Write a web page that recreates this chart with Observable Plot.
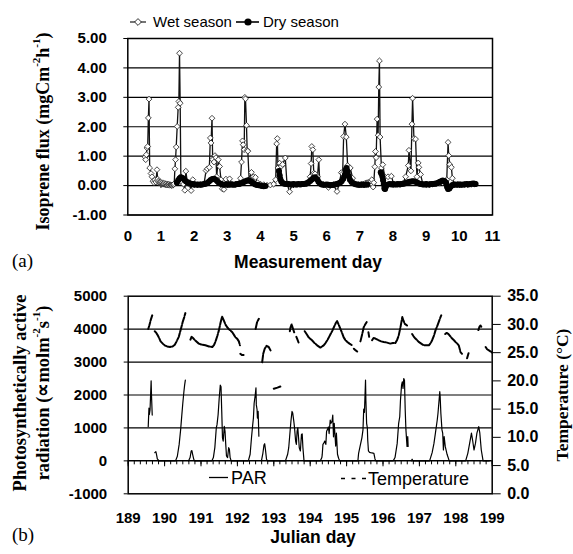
<!DOCTYPE html>
<html>
<head>
<meta charset="utf-8">
<script src="https://cdn.jsdelivr.net/npm/d3@7"></script>
<script src="https://cdn.jsdelivr.net/npm/@observablehq/plot@0.6"></script>
<style>
  body { margin: 0; background: white; }
  #root { position: relative; width: 573px; height: 554px; overflow: hidden; }
  .layer { position: absolute; left: 0; }
  svg text { white-space: pre; }
</style>
</head>
<body>
<div id="root">
  <div id="chartA" class="layer" style="top:0px"></div>
  <div id="chartB" class="layer" style="top:277px"></div>
  <div id="chartB2" class="layer" style="top:277px"></div>
  <svg id="notes" class="layer" style="top:0px;pointer-events:none" width="573" height="554">
    <!-- legend (a) -->
    <line x1="130" x2="146" y1="22" y2="22" stroke="#1a1a1a" stroke-width="1.2"/>
    <path d="M138,18.6L141.4,22L138,25.4L134.6,22Z" fill="white" stroke="#1a1a1a" stroke-width="0.9"/>
    <text x="153" y="27.3" font-family="'Liberation Sans', Arial, sans-serif" font-size="15">Wet season</text>
    <line x1="236" x2="259" y1="22" y2="22" stroke="black" stroke-width="1.6"/>
    <circle cx="248" cy="22" r="3.6" fill="black"/>
    <text x="263" y="27.3" font-family="'Liberation Sans', Arial, sans-serif" font-size="15">Dry season</text>
    <!-- axis titles (a) -->
    <text transform="translate(43,131.5) rotate(-90)" text-anchor="middle" dominant-baseline="central" font-family="'Liberation Serif', 'Times New Roman', serif" font-weight="bold" font-size="18">Isoprene flux (mgCm<tspan dy="-7" font-size="11">-2</tspan><tspan dy="7">h</tspan><tspan dy="-7" font-size="11">-1</tspan><tspan dy="7">)</tspan></text>
    <text x="12" y="267" font-family="'Liberation Serif', 'Times New Roman', serif" font-size="19">(a)</text>
    <text x="308" y="268" text-anchor="middle" font-family="'Liberation Sans', Arial, sans-serif" font-weight="bold" font-size="17.5">Measurement day</text>
    <!-- axis titles (b) -->
    <text transform="translate(20,393) rotate(-90)" text-anchor="middle" dominant-baseline="central" font-family="'Liberation Serif', 'Times New Roman', serif" font-weight="bold" font-size="18.5">Photosynthetically active</text>
    <text transform="translate(43,393) rotate(-90)" text-anchor="middle" dominant-baseline="central" font-family="'Liberation Serif', 'Times New Roman', serif" font-weight="bold" font-size="18.5">radiation (∝molm<tspan dy="-7" font-size="11">-2</tspan><tspan dy="7">s</tspan><tspan dy="-7" font-size="11">-1</tspan><tspan dy="7">)</tspan></text>
    <text transform="translate(562,395) rotate(-90)" text-anchor="middle" dominant-baseline="central" font-family="'Liberation Serif', 'Times New Roman', serif" font-weight="bold" font-size="17.5">Temperature (°C)</text>
    <text x="12" y="541" font-family="'Liberation Serif', 'Times New Roman', serif" font-size="19">(b)</text>
    <text x="313" y="543" text-anchor="middle" font-family="'Liberation Sans', Arial, sans-serif" font-weight="bold" font-size="17.5">Julian day</text>
    <!-- legend (b) -->
    <line x1="209" x2="228" y1="477.5" y2="477.5" stroke="black" stroke-width="1.3"/>
    <text x="231" y="484" font-family="'Liberation Sans', Arial, sans-serif" font-size="18">PAR</text>
    <line x1="341" x2="366" y1="478.5" y2="478.5" stroke="black" stroke-width="1.3" stroke-dasharray="4,6.5"/>
    <text x="368" y="484.5" font-family="'Liberation Sans', Arial, sans-serif" font-size="18">Temperature</text>
  </svg>
</div>
<script>
// ---------- DATA ----------
// (a) Isoprene flux, measurement day vs mgC m-2 h-1
const measurementDayTicks = [0,1,2,3,4,5,6,7,8,9,10,11];
const fluxTicks = [-1,0,1,2,3,4,5];

const wetSeason = [
[0.52,0.97],[0.54,0.88],[0.56,1.05],[0.58,1.28],[0.60,1.33],[0.62,2.30],[0.64,2.94],[0.66,0.60],[0.70,0.41],[0.73,0.30],[0.76,0.15],[0.79,0.10],[0.82,0.20],[0.85,0.12],[0.88,0.54],[0.90,0.22],[0.92,0.15],
[0.94,0.10],[0.96,0.12],[0.98,0.08],[1.00,0.11],[1.02,0.06],[1.04,0.09],[1.06,0.05],[1.08,0.08],[1.10,0.04],[1.12,0.07],[1.14,0.03],[1.16,0.06],[1.18,0.02],[1.20,0.05],[1.22,0.03],[1.24,0.04],[1.26,0.01],[1.28,0.03],[1.30,0.02],[1.32,0.00],[1.34,0.02],[1.36,0.01],[1.38,0.03],[1.40,0.06],
[1.42,0.57],[1.44,0.88],[1.46,1.31],[1.49,2.01],[1.52,2.66],[1.54,2.86],[1.56,4.50],[1.58,2.80],[1.60,0.30],[1.64,0.10],[1.68,0.05],[1.72,-0.16],[1.75,0.49],[1.80,0.08],[1.86,0.05],[1.91,-0.17],[1.96,0.20],[2.02,0.05],[2.10,0.03],[2.20,0.04],[2.30,0.06],
[2.36,0.51],[2.40,0.57],[2.46,0.62],[2.49,1.62],[2.51,1.45],[2.54,2.29],[2.56,0.88],[2.60,0.80],[2.63,1.02],[2.66,0.95],[2.68,0.30],[2.73,0.88],[2.77,0.65],[2.81,0.20],[2.85,-0.11],[2.90,-0.13],[2.96,0.22],[3.01,0.05],[3.07,0.23],[3.15,0.04],[3.25,0.05],[3.35,0.08],
[3.40,0.25],[3.43,0.80],[3.46,1.52],[3.48,1.39],[3.51,1.22],[3.53,3.00],[3.55,2.95],[3.58,2.05],[3.60,1.20],[3.62,1.17],[3.66,0.20],[3.73,0.45],[3.79,0.30],[3.85,0.28],[3.91,0.10],[4.00,0.05],[4.10,0.03],[4.20,0.01],[4.30,0.02],[4.40,0.05],
[4.46,0.20],[4.49,1.42],[4.51,1.60],[4.53,0.60],[4.58,0.76],[4.63,0.66],[4.67,0.72],[4.75,0.94],[4.80,0.08],[4.88,-0.21],[4.95,0.03],[5.10,0.04],[5.25,0.05],[5.40,0.06],
[5.50,0.30],[5.53,0.75],[5.55,1.33],[5.58,1.22],[5.61,0.42],[5.65,0.40],[5.72,0.30],[5.76,0.88],[5.79,0.10],[5.90,0.04],[6.05,-0.06],[6.20,0.03],[6.31,-0.20],[6.38,0.08],
[6.44,0.44],[6.48,0.40],[6.51,1.67],[6.55,2.09],[6.59,1.65],[6.63,0.68],[6.71,0.60],[6.78,0.25],[6.85,0.05],[6.95,0.04],[7.05,0.03],
[7.10,0.05],[7.13,0.02],[7.16,0.08],[7.19,0.04],[7.22,0.10],[7.25,0.03],[7.28,0.12],[7.31,0.06],[7.34,0.15],[7.36,0.20],[7.38,0.03],[7.40,-0.05],[7.42,0.10],
[7.45,0.64],[7.47,1.16],[7.49,0.95],[7.52,2.26],[7.55,1.71],[7.57,3.35],[7.59,4.24],[7.61,1.65],[7.65,0.60],[7.69,0.71],[7.75,0.30],[7.85,0.30],[7.95,0.32],[8.02,0.05],[8.12,0.04],[8.22,0.05],[8.30,0.07],
[8.38,0.30],[8.46,0.68],[8.48,1.20],[8.54,0.50],[8.57,2.09],[8.59,2.97],[8.63,1.60],[8.68,1.58],[8.72,0.30],[8.76,0.77],[8.78,0.62],[8.83,0.38],[8.90,0.05],[9.00,0.04],[9.10,0.03],[9.20,0.05],[9.30,0.06],[9.40,0.08],[9.50,0.10],
[9.62,0.20],[9.66,1.47],[9.68,1.02],[9.71,0.72],[9.76,0.62],[9.79,0.25],[9.85,0.03],[9.95,0.04],[10.05,0.03],[10.15,0.04],[10.25,0.03],[10.35,0.04],[10.45,0.05]
];

const drySeason = [
[1.48,0.10],[1.52,0.18],[1.56,0.24],[1.60,0.28],[1.65,0.26],[1.70,0.21],[1.75,0.15],[1.80,0.11],[1.85,0.08],[1.90,0.06],[1.95,0.05],[2.00,0.04],[2.05,0.04],[2.10,0.03],[2.15,0.04],[2.20,0.03],[2.25,0.04],[2.30,0.05],[2.35,0.06],[2.40,0.09],[2.45,0.14],[2.50,0.19],[2.55,0.22],[2.60,0.23],[2.65,0.20],[2.70,0.15],[2.75,0.09],[2.80,0.06],[2.85,0.04],[2.90,0.03],[2.95,0.04],[3.00,0.04],[3.05,0.03],[3.10,0.04],[3.15,0.04],[3.20,0.03],[3.25,0.04],[3.30,0.05],[3.35,0.05],[3.40,0.07],[3.45,0.09],[3.50,0.12],[3.55,0.15],[3.60,0.17],[3.65,0.18],[3.70,0.15],[3.75,0.11],[3.80,0.07],[3.85,0.04],[3.90,0.02],[3.95,0.01],[4.00,0.00],[4.05,-0.01],[4.10,-0.02],[4.15,-0.01],
null,
[4.56,0.50],[4.58,0.35],[4.60,0.22],[4.63,0.14],[4.67,0.09],[4.72,0.06],[4.78,0.05],[4.85,0.05],[4.90,0.04],[4.95,0.04],[5.00,0.05],[5.05,0.04],[5.10,0.04],[5.15,0.05],[5.20,0.04],[5.25,0.05],[5.30,0.05],[5.35,0.06],[5.40,0.08],[5.45,0.11],[5.50,0.16],[5.55,0.21],[5.60,0.26],[5.65,0.28],[5.70,0.22],[5.75,0.13],[5.80,0.07],[5.85,0.04],[5.90,0.03],[5.95,0.03],[6.00,0.04],[6.05,0.03],[6.10,0.01],[6.15,0.02],[6.20,0.03],[6.25,0.04],[6.30,0.05],[6.35,0.07],[6.40,0.10],[6.45,0.15],[6.50,0.23],[6.55,0.38],[6.58,0.55],[6.60,0.60],[6.63,0.48],[6.66,0.32],[6.70,0.20],[6.75,0.12],[6.80,0.08],[6.85,0.05],[6.90,0.04],[6.95,0.03],[7.00,0.03],[7.05,0.04],[7.10,0.03],[7.15,0.03],[7.22,0.04],
null,
[7.63,0.45],[7.65,0.40],[7.68,0.30],[7.70,0.18],[7.72,0.05],[7.74,-0.10],[7.76,-0.12],[7.78,-0.05],[7.80,0.02],[7.85,0.04],[7.90,0.05],[7.95,0.04],[8.00,0.05],[8.05,0.04],[8.10,0.04],[8.15,0.05],[8.20,0.04],[8.25,0.05],[8.30,0.06],[8.35,0.07],[8.40,0.09],[8.45,0.11],[8.50,0.13],[8.55,0.14],[8.60,0.15],[8.65,0.14],[8.70,0.12],[8.75,0.09],[8.80,0.06],[8.85,0.05],[8.90,0.04],[8.95,0.04],[9.00,0.05],[9.05,0.04],[9.10,0.04],[9.15,0.05],[9.20,0.05],[9.25,0.06],[9.30,0.07],[9.35,0.09],[9.40,0.12],[9.45,0.15],[9.50,0.17],[9.55,0.16],[9.60,0.10],[9.63,-0.05],[9.66,-0.12],[9.70,-0.10],[9.74,-0.03],[9.78,0.01],[9.82,0.03],[9.87,0.04],[9.92,0.03],[9.97,0.04],[10.02,0.04],[10.07,0.03],[10.12,0.04],[10.17,0.04],[10.22,0.05],[10.27,0.04],[10.32,0.05],[10.37,0.06],[10.42,0.07],[10.46,0.06],[10.49,0.05]
];

// (b) Julian day vs PAR (µmol m-2 s-1) and temperature (°C)
const julianDayTicks = [189,190,191,192,193,194,195,196,197,198,199];
const parTicks = [-1000,0,1000,2000,3000,4000,5000];
const temperatureTicks = [0,5,10,15,20,25,30,35];

const parRadiation = [
[189.55,1040],[189.57,1600],[189.58,1400],[189.60,1550],[189.63,2430],[189.64,2000],[189.66,1390], null,
[189.73,250],[189.76,280],[189.78,180],[189.80,60],[189.85,0],[190.30,0],[190.35,140],[190.40,500],[190.44,940],[190.47,1350],[190.50,1750],[190.53,2100],[190.55,2300],[190.57,2450], null,
[190.66,0],[190.70,100],[190.73,300],[190.75,310],[190.77,200],[190.80,50],[190.83,0],[191.30,0],[191.34,100],[191.38,400],[191.42,1000],[191.44,1100],[191.47,1400],[191.50,1900],[191.53,2300],[191.55,2250],[191.57,1500],[191.59,700],[191.61,600],[191.64,1050],[191.66,900],[191.68,500],[191.70,150],[191.73,100],[191.76,400],[191.78,350],[191.80,100],[191.83,0],[192.30,0],
[192.35,200],[192.39,740],[192.42,1090],[192.44,1300],[192.46,1750],[192.49,2000],[192.51,2220],[192.52,1700],[192.54,1560],[192.55,1300],[192.57,1500],[192.59,750], null,
[192.66,0],[192.70,230],[192.73,480],[192.75,520],[192.77,350],[192.80,50],[192.83,0],[193.32,0],[193.38,200],[193.41,400],[193.44,800],[193.47,1200],[193.50,1500],[193.52,1450],[193.55,1200],[193.57,1000],[193.60,600],[193.62,500],[193.64,900],[193.66,1000],[193.68,700],[193.70,400],[193.73,300],[193.76,800],[193.78,820],[193.80,400],[193.83,0],[194.28,0],
[194.32,100],[194.33,180],[194.35,500],[194.37,530],[194.40,600],[194.43,500],[194.45,900],[194.47,940],[194.50,1030],[194.52,830],[194.55,1240],[194.57,1140],[194.60,1200],[194.62,1390],[194.64,730],[194.66,1140],[194.68,800],[194.70,450],[194.72,840],[194.75,200],[194.78,80],[194.81,0],[195.31,0],
[195.33,230],[195.37,440],[195.42,700],[195.45,940],[195.47,1570],[195.49,1470],[195.52,2450],[195.53,1830],[195.55,1140],[195.57,1000],[195.58,640],[195.60,300],[195.63,260],[195.66,250],[195.70,240],[195.75,230],[195.78,60],[195.80,0],[196.28,0],
[196.33,100],[196.39,530],[196.43,1140],[196.46,1340],[196.48,1840],[196.51,2300],[196.53,2400],[196.55,2200],[196.57,2500],[196.59,2450],[196.61,1550],[196.63,940],[196.66,440],[196.68,740],[196.69,440], null,
[196.78,0],[196.80,50],[196.82,0],[197.28,0],[197.35,250],[197.40,530],[197.44,840],[197.49,1240],[197.51,1440],[197.53,1700],[197.56,2100],[197.57,1950],[197.59,1440],[197.62,940],[197.64,840],[197.66,330],[197.68,740],[197.71,440],[197.76,200],[197.82,0],[198.27,0],
[198.33,230],[198.38,530],[198.43,840],[198.46,640],[198.50,330],[198.54,530],[198.58,840],[198.63,1040],[198.66,840],[198.70,330],[198.75,0],[198.92,0]
];

const airTemperature = [
[189.55,29.2],[189.58,29.8],[189.62,30.8],[189.66,31.6], null,
[189.73,28.8],[189.76,28.6],[189.80,28.2],[189.85,27.6],[189.89,27.0],[189.95,26.6],[190.00,26.3],[190.07,26.1],[190.15,26.0],[190.22,26.1],[190.28,26.4],[190.33,27.0],[190.39,27.8],[190.46,29.5],[190.50,30.5],[190.54,31.3],[190.57,32.0], null,
[190.71,27.3],[190.74,27.8],[190.78,27.6],[190.85,27.1],[190.94,26.6],[191.03,26.4],[191.12,26.3],[191.22,26.1],[191.31,26.0],[191.36,26.4],[191.40,27.0],[191.45,28.0],[191.49,28.9],[191.54,30.4],[191.58,31.4],[191.62,30.8],[191.67,30.0],[191.72,29.5],[191.76,29.2],[191.81,28.9],[191.86,28.6],[191.91,28.1],[191.95,27.7],[192.00,27.4],[192.04,27.0],[192.07,26.3], null,
[192.08,24.8],[192.12,24.6],[192.17,24.6], null,
[192.50,29.2],[192.54,30.4],[192.59,31.0], null,
[192.68,23.3],[192.71,24.8],[192.75,25.7],[192.80,26.2],[192.86,26.0],[192.91,25.4], null,
[193.00,18.6],[193.10,18.8],[193.18,19.0], null,
[193.44,28.8],[193.46,29.5],[193.49,30.0],[193.51,29.6],[193.53,29.2],[193.56,28.6], null,
[193.62,27.8],[193.64,27.5],[193.68,26.8], null,
[193.85,28.8],[193.90,28.3],[193.96,27.7],[194.05,27.2],[194.12,26.7],[194.19,26.3],[194.28,25.9],[194.37,26.3],[194.42,26.7],[194.47,27.2],[194.52,27.8],[194.56,28.3],[194.61,28.9],[194.65,29.5],[194.70,30.2],[194.74,30.6],[194.78,30.0],[194.83,29.2],[194.88,28.4],[194.92,27.7],[194.97,27.2],[195.02,26.9],[195.08,26.6],[195.15,26.3], null,
[195.20,25.7],[195.25,25.4],[195.29,25.2], null,
[195.38,27.0],[195.43,28.3],[195.47,29.5],[195.52,30.1],[195.55,30.4], null,
[195.60,28.6],[195.62,27.8], null,
[195.70,27.2],[195.74,27.6],[195.79,27.5],[195.88,27.2],[195.95,27.0],[196.02,26.9],[196.10,26.8],[196.20,26.6],[196.27,26.7],[196.34,26.7],[196.39,27.3],[196.43,28.0],[196.48,29.5],[196.53,31.3],[196.56,30.7],[196.60,30.1],[196.66,29.8], null,
[196.80,28.3],[196.84,27.9],[196.89,27.5],[196.94,27.2],[196.98,26.9],[197.05,26.6],[197.12,26.3],[197.20,26.3],[197.26,26.3],[197.31,26.7],[197.35,27.2],[197.40,28.0],[197.44,28.9],[197.49,29.7],[197.53,30.4],[197.58,31.3],[197.60,31.6], null,
[197.71,28.3],[197.75,28.5],[197.80,28.3],[197.85,27.9],[197.90,27.5],[197.95,27.2],[197.99,26.9],[198.04,26.6],[198.08,26.3],[198.11,25.6],[198.13,25.1],[198.17,24.8], null,
[198.31,24.0],[198.35,24.9], null,
[198.62,29.0],[198.65,29.6],[198.68,29.8],[198.70,29.6], null,
[198.82,26.0],[198.86,25.6],[198.91,25.4],[198.96,25.2],[199.00,25.0]
];

// ---------- helpers ----------
const rows = (arr, k) => arr.map(p => p ? {day: p[0], [k]: p[1]} : {day: NaN, [k]: NaN});
const wetRows = rows(wetSeason, "flux");
const dryRows = rows(drySeason, "flux");
const parRows = rows(parRadiation, "par");
const tempRows = rows(airTemperature, "temp");

const baseStyle = {
  background: "transparent",
  overflow: "visible",
  fontFamily: "'Liberation Sans', Arial, sans-serif",
  fontSize: "15px",
  fontWeight: "bold",
  color: "black"
};

// ---------- chart (a) ----------
const chartA = Plot.plot({
  width: 573, height: 270,
  marginLeft: 127.3, marginRight: 81, marginTop: 38, marginBottom: 55.5,
  x: {domain: [0, 11]},
  y: {domain: [-1, 5]},
  style: baseStyle,
  marks: [
    Plot.ruleY(fluxTicks, {stroke: "black", strokeWidth: 1.2}),
    Plot.ruleX(measurementDayTicks.slice(1, -1), {y1: 0, y2: -0.1, stroke: "black", strokeWidth: 1}),
    Plot.line(wetRows, {x: "day", y: "flux", stroke: "#111", strokeWidth: 1.3}),
    Plot.dot(wetRows, {x: "day", y: "flux", symbol: "diamond2", r: 2.6, fill: "white", stroke: "#1a1a1a", strokeWidth: 0.8}),
    Plot.line(dryRows, {x: "day", y: "flux", stroke: "black", strokeWidth: 5}),
    Plot.dot(dryRows, {x: "day", y: "flux", r: 3, fill: "black"}),
    Plot.frame({stroke: "black", strokeWidth: 1.5}),
    Plot.axisY({ticks: fluxTicks, tickSize: 4, tickPadding: 17, tickFormat: d => d.toFixed(2), label: null}),
    Plot.axisX({ticks: measurementDayTicks, tickSize: 0, tickPadding: 15, tickFormat: d => String(d), label: null})
  ]
});
document.getElementById("chartA").append(chartA);

// ---------- chart (b): PAR ----------
const minorTicks = d3.range(0, 61).map(i => 189 + i / 6);
const chartB = Plot.plot({
  width: 573, height: 277,
  marginLeft: 127.7, marginRight: 81.3, marginTop: 18.7, marginBottom: 60.7,
  x: {domain: [189, 199]},
  y: {domain: [-1000, 5000]},
  style: baseStyle,
  marks: [
    Plot.ruleY(parTicks.filter(v => v > 0 && v < 5000), {stroke: "black", strokeWidth: 1.2}),
    Plot.ruleX(minorTicks, {y1: 0, y2: -120, stroke: "black", strokeWidth: 1}),
    Plot.ruleX(julianDayTicks, {y1: 0, y2: -180, stroke: "black", strokeWidth: 1}),
    Plot.ruleY([0], {stroke: "black", strokeWidth: 1.5}),
    Plot.line(parRows, {x: "day", y: "par", stroke: "black", strokeWidth: 1.2}),
    Plot.frame({stroke: "black", strokeWidth: 1.5}),
    Plot.axisY({ticks: parTicks, tickSize: 4, tickPadding: 17, tickFormat: d => String(d), label: null}),
    Plot.axisX({ticks: julianDayTicks, tickSize: 0, tickPadding: 18.6, tickFormat: d => String(d), label: null})
  ]
});
document.getElementById("chartB").append(chartB);

// ---------- chart (b): temperature on its own right-hand scale ----------
const chartB2 = Plot.plot({
  width: 573, height: 277,
  marginLeft: 127.7, marginRight: 81.3, marginTop: 18.7, marginBottom: 60.7,
  x: {domain: [189, 199], axis: null},
  y: {domain: [0, 35]},
  style: baseStyle,
  marks: [
    Plot.line(tempRows, {x: "day", y: "temp", stroke: "black", strokeWidth: 2, strokeDasharray: "7,1.5"}),
    Plot.axisY({anchor: "right", ticks: temperatureTicks, tickSize: 8, tickPadding: 7, tickFormat: d => d.toFixed(1), fontSize: 16, label: null})
  ]
});
document.getElementById("chartB2").append(chartB2);
</script>
</body>
</html>
